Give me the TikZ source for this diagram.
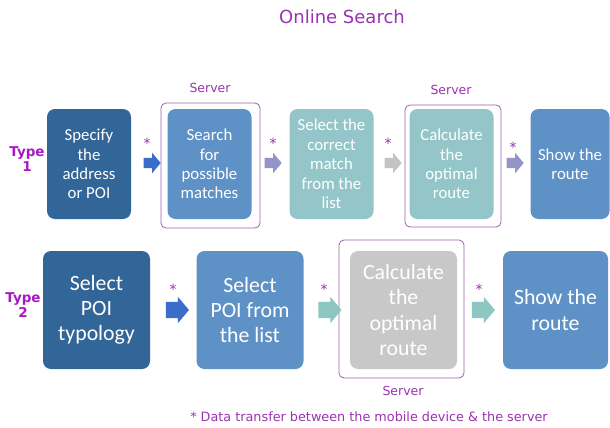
\documentclass[tikz,border=0pt]{standalone}
\usepackage{fontspec}
\setmainfont{DejaVu Sans}
\newfontfamily\boxfont{Carlito}
\usetikzlibrary{shapes.arrows}
\definecolor{darkbox}{HTML}{326598}
\definecolor{midbox}{HTML}{5E92C7}
\definecolor{tealbox}{HTML}{94C6C9}
\definecolor{greybox}{HTML}{C8C8C8}
\definecolor{titlepurple}{HTML}{9B32B2}
\definecolor{typepurple}{HTML}{A818C4}
\definecolor{frameviolet}{HTML}{A060AA}
\definecolor{arrblue}{HTML}{3A6CCB}
\definecolor{arrlav}{HTML}{9494CB}
\definecolor{arrgrey}{HTML}{C4C4C4}
\definecolor{arrteal}{HTML}{8EC6C2}
\tikzset{
  x=1pt, y=-1pt,
  box/.style={rounded corners=8pt, text=white, align=center, inner sep=0pt},
  smallbox/.style={box, minimum width=84pt, minimum height=110pt, font=\boxfont\fontsize{16.8}{19.4}\selectfont},
  bigbox/.style={box, minimum width=107pt, minimum height=118pt, font=\boxfont\fontsize{21.8}{25.3}\selectfont},
  srvframe/.style={draw=frameviolet, line width=0.8pt, rounded corners=5pt, inner sep=0pt},
  srvlabel/.style={text=titlepurple, font=\fontsize{12.5}{14}\selectfont},
  typelabel/.style={text=typepurple, align=center, font=\bfseries\fontsize{13.5}{15}\selectfont},
  starlabel/.style={text=titlepurple, font=\fontsize{14}{14}\selectfont},
  blockarrow/.style={single arrow, draw=none, inner sep=0pt, single arrow head extend=5pt, single arrow tip angle=100},
  smallarrow/.style={blockarrow, inner ysep=5pt, minimum height=17pt},
  bigarrow/.style={blockarrow, inner ysep=8pt, single arrow head extend=5pt, minimum height=23pt},
}
\begin{document}
\begin{tikzpicture}
\useasboundingbox (0,0) rectangle (610,428);
\fill[white] (0,0) rectangle (610,428);
\node[text=titlepurple, font=\fontsize{18}{20}\selectfont] (title) at (342,17) {Online Search};
% Row 1
\node[typelabel] (type1) at (27,159) {Type\\1};
\node[smallbox, fill=darkbox] (b1) at (89,164) {Specify\\the\\address\\or POI};
\node[srvframe, minimum width=99pt, minimum height=125pt] (f1) at (210.5,165.5) {};
\node[srvlabel] (s1) at (210,88) {Server};
\node[smallbox, fill=midbox] (b2) at (209.5,164) {Search\\for\\possible\\matches};
\node[smallbox, fill=tealbox] (b3) at (331.5,164) {Select the\\correct\\match\\from the\\list};
\node[srvframe, minimum width=96pt, minimum height=122pt] (f2) at (453,166) {};
\node[srvlabel] (s2) at (451,90) {Server};
\node[smallbox, fill=tealbox] (b4) at (451.5,164) {Calculate\\the\\optimal\\route};
\node[smallbox, fill=midbox, minimum width=79pt] (b5) at (570,164) {Show the\\route};
\node[smallarrow, fill=arrblue] (a1) at (150,163) {};
\node[smallarrow, fill=arrlav] (a2) at (271,163) {};
\node[smallarrow, fill=arrgrey] (a3) at (391,163) {};
\node[smallarrow, fill=arrlav] (a4) at (513,163) {};
\node[starlabel] (st1) at (147,143) {*};
\node[starlabel] (st2) at (273,143) {*};
\node[starlabel] (st3) at (388,143) {*};
\node[starlabel] (st4) at (513,147) {*};
% Row 2
\node[typelabel] (type2) at (23,305) {Type\\2};
\node[bigbox, fill=darkbox] (b6) at (96.5,310) {Select\\POI\\typology};
\node[bigbox, fill=midbox] (b7) at (250,310) {Select\\POI from\\the list};
\node[srvframe, minimum width=125pt, minimum height=138pt] (f3) at (401.5,309) {};
\node[srvlabel] (s3) at (403,391) {Server};
\node[bigbox, fill=greybox] (b8) at (403.5,310) {Calculate\\the\\optimal\\route};
\node[bigbox, fill=midbox, minimum width=105pt] (b9) at (555.5,310) {Show the\\route};
\node[bigarrow, fill=arrblue] (a5) at (174,310) {};
\node[bigarrow, fill=arrteal] (a6) at (326.5,310) {};
\node[bigarrow, fill=arrteal] (a7) at (480,310) {};
\node[starlabel] (st5) at (173,289) {*};
\node[starlabel] (st6) at (324,289) {*};
\node[starlabel] (st7) at (479,289) {*};
% Footer
\node[text=titlepurple, font=\fontsize{12.8}{14}\selectfont] (foot) at (369,417) {* Data transfer between the mobile device \& the server};
\end{tikzpicture}
\end{document}
